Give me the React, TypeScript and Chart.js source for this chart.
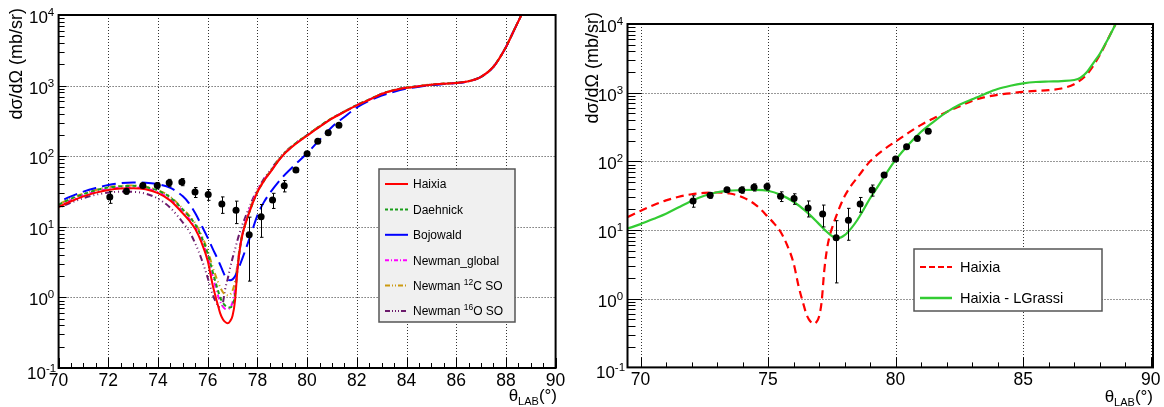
import React, { useEffect, useRef } from 'react';
import { Chart, registerables } from 'chart.js';

Chart.register(...registerables);

const FONT = '"Liberation Sans", Arial, Helvetica, sans-serif';

// ---------------- data ----------------
const THETA = [69.5, 70, 70.5, 71, 71.5, 72, 72.5, 73, 73.5, 74, 74.5, 75, 75.25, 75.5, 75.75, 76, 76.2, 76.4, 76.5, 76.6, 76.7, 76.8, 76.9, 77.0, 77.1, 77.2, 77.3, 77.4, 77.5, 77.75, 78, 78.25, 78.5, 79, 79.5, 80, 80.5, 81, 81.5, 82, 82.5, 83, 83.5, 84, 84.5, 85, 85.5, 86, 86.5, 87, 87.5, 88, 88.3, 88.6, 88.8];

const HAIXIA = [15.5, 19, 23, 27, 30.5, 33.2, 34.8, 35.2, 34, 30, 23.5, 15.5, 12.3, 9.3, 6, 3.3, 1.5, 0.8, 0.6, 0.5, 0.45, 0.43, 0.46, 0.55, 0.9, 2.5, 5, 7.8, 10.5, 19, 31, 44, 58, 100, 145, 195, 260, 340, 425, 525, 630, 760, 860, 930, 980, 1030, 1060, 1090, 1150, 1330, 1850, 3500, 5800, 9600, 13500];

const DAEHNICK = [16.5, 20.5, 25, 29, 33, 36, 37.5, 38, 36.5, 32.5, 26, 17.5, 14, 10.8, 7.2, 4.2, 2.3, 1.3, 1.0, 0.85, 0.77, 0.73, 0.72, 0.78, 1.1, 2.6, 5, 7.8, 10.5, 19, 31, 44, 59, 102, 148, 198, 265, 345, 430, 530, 635, 765, 865, 935, 985, 1035, 1065, 1095, 1155, 1335, 1860, 3520, 5850, 9650, 13600];

const BOJOWALD = [18.5, 22.5, 27, 31.5, 35.5, 39, 41.5, 42.5, 42, 40, 35.5, 27, 21.5, 15.5, 10.5, 7, 4.9, 3.5, 2.9, 2.4, 2.0, 1.8, 1.75, 1.8, 2.0, 2.35, 2.9, 3.6, 4.5, 8, 14.5, 22, 30, 50, 75, 110, 170, 260, 360, 490, 610, 720, 820, 905, 965, 1015, 1050, 1085, 1150, 1330, 1850, 3500, 5800, 9600, 13500];

const NEWMAN_GLOBAL = [16, 19.6, 23.8, 28, 31.5, 34.3, 36, 36.3, 35, 31, 24.5, 16.3, 13, 9.9, 6.5, 3.7, 2.0, 1.1, 0.88, 0.75, 0.69, 0.68, 0.72, 0.85, 1.3, 2.7, 5.2, 8, 11, 20, 32, 45, 59, 101, 146, 197, 262, 342, 428, 528, 632, 762, 862, 932, 982, 1032, 1062, 1092, 1152, 1332, 1855, 3510, 5820, 9620, 13550];

const NEWMAN_C12 = [16.8, 20.8, 25.3, 29.5, 33.3, 36.3, 38, 38.5, 37, 33, 26.5, 18, 14.5, 11.2, 7.6, 4.6, 2.7, 1.7, 1.4, 1.2, 1.1, 1.07, 1.1, 1.25, 1.7, 3.0, 5.5, 8.2, 11, 20, 32, 45, 60, 103, 149, 199, 266, 346, 432, 532, 637, 767, 867, 937, 987, 1037, 1067, 1097, 1157, 1337, 1860, 3520, 5850, 9650, 13600];

const NEWMAN_O16 = [15, 18.5, 22, 25.5, 28.5, 30.5, 31.5, 31.3, 29.5, 25, 18.5, 11.5, 8.7, 5.8, 3.5, 1.9, 1.1, 0.78, 0.72, 0.8, 1.3, 1.8, 2.6, 3.6, 4.8, 6.5, 8.5, 10.8, 13.3, 22, 34, 47, 62, 104, 150, 200, 265, 343, 428, 528, 632, 762, 862, 932, 982, 1032, 1062, 1092, 1152, 1332, 1855, 3510, 5820, 9620, 13550];

const THETA_G = [69.5, 70, 70.5, 71, 71.5, 72, 72.5, 73, 73.5, 74, 74.5, 75, 75.5, 76, 76.5, 77, 77.25, 77.5, 77.75, 78, 78.25, 78.5, 78.75, 79, 79.25, 79.5, 79.75, 80, 80.5, 81, 81.5, 82, 82.5, 83, 83.5, 84, 84.5, 85, 85.5, 86, 86.5, 87, 87.25, 87.5, 87.75, 88, 88.3, 88.6, 88.8];

const LGRASSI = [10.5, 12.2, 14.5, 17.3, 21.5, 26.5, 31.5, 35.5, 37.5, 38.3, 38.5, 37.3, 32.5, 25.8, 18.5, 12.2, 9.8, 8.2, 7.6, 8.4, 10.5, 14, 20, 29, 40, 56, 78, 105, 175, 270, 380, 520, 665, 800, 960, 1130, 1260, 1366, 1430, 1455, 1475, 1530, 1650, 2000, 2700, 3650, 5800, 9600, 13500];

const EXP_THETA = [72.06, 72.73, 73.39, 73.97, 74.45, 74.96, 75.49, 76.02, 76.57, 77.14, 77.67, 78.15, 78.61, 79.08, 79.55, 80.0, 80.43, 80.85, 81.28];
const EXP_XS = [26.5, 32, 38.6, 38.4, 42, 43.2, 31, 28.7, 21, 17.1, 7.7, 13.9, 24, 38.2, 63.5, 108, 163, 215, 275];
const EXP_ERR = [5, 3, 2.5, 4, 5, 5, 5, 5, 5.5, 6, 6, 6.8, 5.8, 7, 4, 6, 5, 6, 7];

const Y_LABEL_EXP = [-1, 0, 1, 2, 3, 4];
const Y_GRID_EXP = [0, 1, 2, 3];
const X_LABELS_LEFT = [70, 72, 74, 76, 78, 80, 82, 84, 86, 88, 90];
const X_GRID_LEFT = [72, 74, 76, 78, 80, 82, 84, 86, 88];
const X_LABELS_RIGHT = [70, 75, 80, 85, 90];
const X_GRID_RIGHT = [70, 75, 80, 85, 90];

// ---------------- helpers ----------------
type Seg = { t: string; size: number; dy?: number };

function setFont(ctx: CanvasRenderingContext2D, size: number) {
  ctx.font = `${size}px ${FONT}`;
}

function drawRich(ctx: CanvasRenderingContext2D, segs: Seg[], x: number, y: number, align: 'left' | 'center' | 'right') {
  let w = 0;
  for (const s of segs) {
    setFont(ctx, s.size);
    w += ctx.measureText(s.t).width;
  }
  let cx = align === 'left' ? x : align === 'center' ? x - w / 2 : x - w;
  ctx.textAlign = 'left';
  ctx.textBaseline = 'alphabetic';
  for (const s of segs) {
    setFont(ctx, s.size);
    ctx.fillText(s.t, cx, y + (s.dy || 0));
    cx += ctx.measureText(s.t).width;
  }
}

function line(ctx: CanvasRenderingContext2D, x0: number, y0: number, x1: number, y1: number) {
  ctx.beginPath();
  ctx.moveTo(x0, y0);
  ctx.lineTo(x1, y1);
  ctx.stroke();
}

const xy = (xs: number[], ys: number[]) => xs.map((x, i) => ({ x, y: ys[i] }));

interface LegendItem { label: Seg[]; color: string; dash: number[]; width: number }
interface LegendCfg {
  x: number; y: number; w: number; h: number; fill: string;
  firstY: number; step: number; lineX0: number; lineX1: number; textX: number; fontSize: number;
  items: LegendItem[];
}
interface PanelCfg {
  width: number; height: number; padTop: number; padRight: number; yW: number; xH: number;
  xMin: number; xMax: number; xLabels: number[]; xGrid: number[]; xMinorStep: number;
  yMajorLen: number; yMinorLen: number; xMajorLen: number; xMinorLen: number;
  yTitleX: number; yTitleTop: number; xTitleRight: number; xTitleBaseline: number;
  legend: LegendCfg;
  datasets: any[];
}

function decorPlugin(cfg: PanelCfg) {
  return {
    id: 'decor',
    beforeDatasetsDraw(chart: any) {
      const { ctx, chartArea: ca, scales } = chart;
      const xs = scales.x, ys = scales.y;
      ctx.save();
      ctx.strokeStyle = '#333';
      ctx.lineWidth = 1;
      ctx.setLineDash([1, 2]);
      for (const v of cfg.xGrid) {
        const px = Math.round(xs.getPixelForValue(v)) + 0.5;
        line(ctx, px, ca.top, px, ca.bottom);
      }
      for (const e of Y_GRID_EXP) {
        const py = Math.round(ys.getPixelForValue(Math.pow(10, e))) + 0.5;
        line(ctx, ca.left, py, ca.right, py);
      }
      ctx.restore();
    },
    beforeDatasetDraw(chart: any, args: any) {
      if (args.index !== 0) return;
      const { ctx, scales } = chart;
      const xs = scales.x, ys = scales.y;
      ctx.save();
      ctx.strokeStyle = '#000';
      ctx.lineWidth = 1;
      ctx.setLineDash([]);
      for (let i = 0; i < EXP_THETA.length; i++) {
        const px = Math.round(xs.getPixelForValue(EXP_THETA[i])) + 0.5;
        const yHi = ys.getPixelForValue(EXP_XS[i] + EXP_ERR[i]);
        const yLo = ys.getPixelForValue(Math.max(EXP_XS[i] - EXP_ERR[i], 0.01));
        line(ctx, px, yHi, px, yLo);
        line(ctx, px - 1.5, yHi, px + 2, yHi);
        line(ctx, px - 1.5, yLo, px + 2, yLo);
      }
      ctx.restore();
    },
    afterDraw(chart: any) {
      const { ctx, chartArea: ca, scales } = chart;
      const xs = scales.x, ys = scales.y;
      ctx.save();
      ctx.setLineDash([]);
      ctx.strokeStyle = '#000';
      ctx.fillStyle = '#000';
      // y ticks
      ctx.lineWidth = 1;
      for (let e = -1; e <= 4; e++) {
        for (let m = 1; m <= 9; m++) {
          const v = m * Math.pow(10, e);
          if (v < 0.1 || v > 1e4) continue;
          const py = Math.round(ys.getPixelForValue(v)) + 0.5;
          const len = m === 1 ? cfg.yMajorLen : cfg.yMinorLen;
          line(ctx, ca.left, py, ca.left + len, py);
        }
      }
      // x ticks
      const nStep = Math.round((cfg.xMax - cfg.xMin) / cfg.xMinorStep) + 2;
      const start = Math.ceil(cfg.xMin / cfg.xMinorStep) * cfg.xMinorStep;
      for (let k = 0; k < nStep; k++) {
        const v = start + k * cfg.xMinorStep;
        if (v > cfg.xMax + 1e-6) break;
        const isMajor = cfg.xLabels.some((l) => Math.abs(l - v) < 1e-6);
        const px = Math.round(xs.getPixelForValue(v)) + 0.5;
        line(ctx, px, ca.bottom, px, ca.bottom - (isMajor ? cfg.xMajorLen : cfg.xMinorLen));
      }
      // frame
      ctx.lineWidth = 2;
      ctx.strokeRect(ca.left, ca.top, ca.right - ca.left, ca.bottom - ca.top);
      // y labels
      for (const e of Y_LABEL_EXP) {
        const py = ys.getPixelForValue(Math.pow(10, e));
        drawRich(ctx, [{ t: '10', size: 17 }, { t: String(e), size: 11.5, dy: -7 }], ca.left - 17, py + 8 + (e < 0 ? 3 : 0), 'center');
      }
      // x labels
      for (const v of cfg.xLabels) {
        const px = xs.getPixelForValue(v);
        drawRich(ctx, [{ t: String(v), size: 17.5 }], px, ca.bottom + 18, 'center');
      }
      // x title
      drawRich(ctx, [{ t: 'θ', size: 17 }, { t: 'LAB', size: 11, dy: 4 }, { t: '(°)', size: 17 }], cfg.xTitleRight, cfg.xTitleBaseline, 'right');
      // y title
      ctx.save();
      ctx.translate(cfg.yTitleX, cfg.yTitleTop);
      ctx.rotate(-Math.PI / 2);
      setFont(ctx, 18);
      ctx.textAlign = 'right';
      ctx.textBaseline = 'middle';
      ctx.fillText('dσ/dΩ (mb/sr)', 0, 0);
      ctx.restore();
      // legend
      const L = cfg.legend;
      ctx.fillStyle = L.fill;
      ctx.fillRect(L.x, L.y, L.w, L.h);
      ctx.strokeStyle = '#555';
      ctx.lineWidth = 1.5;
      ctx.strokeRect(L.x, L.y, L.w, L.h);
      L.items.forEach((it, i) => {
        const y = L.firstY + i * L.step;
        ctx.strokeStyle = it.color;
        ctx.lineWidth = it.width;
        ctx.setLineDash(it.dash);
        line(ctx, L.lineX0, y, L.lineX1, y);
        ctx.setLineDash([]);
        ctx.fillStyle = '#000';
        drawRich(ctx, it.label, L.textX, y + L.fontSize * 0.36, 'left');
      });
      ctx.restore();
    },
  };
}

const curve = (data: any[], color: string, dash: number[], width = 2) => ({
  type: 'line',
  data,
  borderColor: color,
  borderWidth: width,
  borderDash: dash,
  pointRadius: 0,
  fill: false,
  cubicInterpolationMode: 'monotone',
});

const points = () => ({
  type: 'scatter',
  data: xy(EXP_THETA, EXP_XS),
  pointRadius: 3.5,
  pointBackgroundColor: '#000',
  pointBorderColor: '#000',
  pointBorderWidth: 0,
  showLine: false,
});

const C_RED = '#ff0000';
const C_DAE = '#1a9e1a';
const C_BOJ = '#0000ff';
const C_GLO = '#ff00ff';
const C_C12 = '#cc9a10';
const C_O16 = '#6b1a6b';
const C_LGR = '#33cc33';

const LEFT: PanelCfg = {
  width: 582, height: 407, padTop: 15, padRight: 26.4, yW: 58.6, xH: 39,
  xMin: 70, xMax: 90, xLabels: X_LABELS_LEFT, xGrid: X_GRID_LEFT, xMinorStep: 0.5,
  yMajorLen: 8, yMinorLen: 6, xMajorLen: 10, xMinorLen: 5,
  yTitleX: 17, yTitleTop: 8, xTitleRight: 557, xTitleBaseline: 401,
  legend: {
    x: 379, y: 169, w: 136, h: 153, fill: '#f0f0f0',
    firstY: 184, step: 25.4, lineX0: 385, lineX1: 408, textX: 413, fontSize: 12,
    items: [
      { label: [{ t: 'Haixia', size: 12 }], color: C_RED, dash: [], width: 2 },
      { label: [{ t: 'Daehnick', size: 12 }], color: C_DAE, dash: [3, 2], width: 2 },
      { label: [{ t: 'Bojowald', size: 12 }], color: C_BOJ, dash: [], width: 2 },
      { label: [{ t: 'Newman_global', size: 12 }], color: C_GLO, dash: [4, 2, 1, 2], width: 2 },
      { label: [{ t: 'Newman ', size: 12 }, { t: '12', size: 8.5, dy: -5 }, { t: 'C SO', size: 12 }], color: C_C12, dash: [5, 2, 1, 2, 1, 2], width: 2 },
      { label: [{ t: 'Newman ', size: 12 }, { t: '16', size: 8.5, dy: -5 }, { t: 'O SO', size: 12 }], color: C_O16, dash: [5, 2, 1, 2, 1, 2, 1, 2], width: 2 },
    ],
  },
  datasets: [
    points(),
    curve(xy(THETA, HAIXIA), C_RED, []),
    curve(xy(THETA, DAEHNICK), C_DAE, [4, 3]),
    curve(xy(THETA, BOJOWALD), C_BOJ, [14, 6]),
    curve(xy(THETA, NEWMAN_GLOBAL), C_GLO, [5, 3, 1, 3]),
    curve(xy(THETA, NEWMAN_C12), C_C12, [6, 3, 1, 3, 1, 3]),
    curve(xy(THETA, NEWMAN_O16), C_O16, [6, 3, 1, 3, 1, 3, 1, 3]),
  ],
};

const RIGHT: PanelCfg = {
  width: 582, height: 407, padTop: 24, padRight: 11, yW: 45.5, xH: 39.6,
  xMin: 69.49, xMax: 90.09, xLabels: X_LABELS_RIGHT, xGrid: X_GRID_RIGHT, xMinorStep: 1,
  yMajorLen: 14, yMinorLen: 8, xMajorLen: 10, xMinorLen: 5,
  yTitleX: 11, yTitleTop: 12, xTitleRight: 571, xTitleBaseline: 402,
  legend: {
    x: 332, y: 249, w: 188, h: 62, fill: '#ffffff',
    firstY: 267, step: 31, lineX0: 338, lineX1: 370, textX: 378, fontSize: 14.5,
    items: [
      { label: [{ t: 'Haixia', size: 14.5 }], color: C_RED, dash: [6, 3], width: 2 },
      { label: [{ t: 'Haixia - LGrassi', size: 14.5 }], color: C_LGR, dash: [], width: 2.5 },
    ],
  },
  datasets: [
    points(),
    curve(xy(THETA_G, LGRASSI), C_LGR, [], 2.2),
    curve(xy(THETA, HAIXIA), C_RED, [8, 5], 2.2),
  ],
};

function Panel({ cfg, left }: { cfg: PanelCfg; left: number }) {
  const ref = useRef<HTMLCanvasElement>(null);
  useEffect(() => {
    const chart = new Chart(ref.current as HTMLCanvasElement, {
      type: 'line',
      data: { datasets: cfg.datasets },
      options: {
        responsive: false,
        animation: false,
        devicePixelRatio: 1,
        layout: { padding: { left: 0, top: cfg.padTop, right: cfg.padRight, bottom: 0 } },
        plugins: { legend: { display: false }, tooltip: { enabled: false } },
        events: [],
        scales: {
          x: {
            type: 'linear', min: cfg.xMin, max: cfg.xMax,
            grid: { display: false }, border: { display: false }, ticks: { display: false },
            afterFit: (s: any) => { s.height = cfg.xH; },
          },
          y: {
            type: 'logarithmic', min: 0.1, max: 10000,
            grid: { display: false }, border: { display: false }, ticks: { display: false },
            afterFit: (s: any) => { s.width = cfg.yW; },
          },
        },
      } as any,
      plugins: [decorPlugin(cfg) as any],
    } as any);
    return () => chart.destroy();
  }, []);
  return (
    <canvas
      ref={ref}
      width={cfg.width}
      height={cfg.height}
      style={{ position: 'absolute', left, top: 0, width: cfg.width, height: cfg.height }}
    />
  );
}

export default function App() {
  return (
    <div style={{ position: 'absolute', left: 0, top: 0, width: 1164, height: 407, background: '#fff', overflow: 'hidden' }}>
      <Panel cfg={LEFT} left={0} />
      <Panel cfg={RIGHT} left={582} />
    </div>
  );
}
